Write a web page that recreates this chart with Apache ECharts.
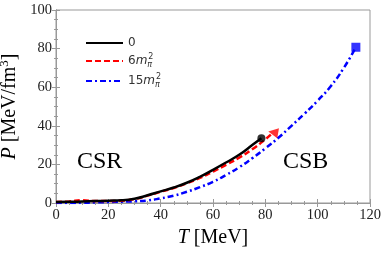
<!DOCTYPE html>
<html><head><meta charset="utf-8">
<script src="https://cdn.jsdelivr.net/npm/echarts@6/dist/echarts.min.js"></script>
<style>html,body{margin:0;padding:0;background:#fff}#c{width:382px;height:253px}</style>
</head><body><div id="c"></div>
<script>
var T0 = [0,5,10,15,20,25,30,35,40,45,50,55,60,65,70,75,78.5];
var P0 = [0.5,0.6,0.8,1.0,1.2,1.4,2.2,4.0,6.0,8.0,10.5,13.6,17.2,21.0,25.0,30.0,33.5];
var T6 = [0,5,10,15,20,25,30,35,40,45,50,55,60,65,70,75,80,83];
var P6 = [0.5,0.8,1.4,1.0,1.0,1.2,2.0,3.8,5.8,7.8,10.2,13.0,16.3,19.8,23.5,27.8,33.0,36.6];
var T15 = [0,5,10,15,20,25,30,35,40,45,50,55,60,65,70,75,80,85,90,95,100,105,110,114.6];
var P15 = [0,0,0.1,0.3,0.5,0.7,0.9,1.3,2.4,3.8,5.8,8.2,11.0,14.5,18.5,23.2,28.3,33.8,40.0,46.3,53.0,60.5,70.0,80.7];
var names = ['0','6m2','15m2'];
var xTicks = [0,20,40,60,80,100,120];
var yTicks = [0,20,40,60,80,100];

function pairs(t,p){return t.map(function(v,i){return [v,p[i]];});}
var serif = 'Liberation Serif';
var chart = echarts.init(document.getElementById('c'));
var axisCommon = {
  axisLine:{show:true,lineStyle:{color:'#999',width:1}},
  axisTick:{show:true,inside:true,length:4,lineStyle:{color:'#999'}},
  minorTick:{show:true,splitNumber:4,length:2,lineStyle:{color:'#999'}},
  splitLine:{show:false}
};
var legendRich = {
  i:{fontStyle:'italic',fontFamily:'DejaVu Sans',fontSize:12,color:'#333'},
  s:{fontFamily:'DejaVu Sans',fontSize:8,fontStyle:'italic',color:'#333',verticalAlign:'bottom',padding:[8,0,0,0],width:1},
  p:{fontFamily:'DejaVu Sans',fontSize:8,color:'#333',verticalAlign:'top',padding:[0,0,8,0]},
  n:{fontFamily:'DejaVu Sans',fontSize:12,color:'#333'}
};
chart.setOption({
  animation:false,
  grid:{left:56,right:12,top:10,bottom:50,show:true,borderColor:'#999',borderWidth:1,containLabel:false,outerBoundsMode:'none'},
  legend:{
    orient:'vertical',left:80,top:32,itemWidth:37,itemHeight:10,itemGap:4,
    itemStyle:{color:'rgba(0,0,0,0)',borderWidth:0,opacity:0},
    data:['0','6m2','15m2'],
    formatter:function(n){
      if(n==='0') return '{n|0}';
      if(n==='6m2') return '{n|6}{i|m}{s|π}{p|2}';
      return '{n|15}{i|m}{s|π}{p|2}';
    },
    textStyle:{rich:legendRich}
  },
  xAxis:[Object.assign({
    type:'value',min:0,max:120,interval:20,
    name:'{i|T} [MeV]',nameLocation:'middle',nameGap:24,
    nameTextStyle:{fontFamily:serif,fontSize:20,color:'#000',rich:{i:{fontFamily:serif,fontStyle:'italic',fontSize:20,color:'#000'}}},
    axisLabel:{fontFamily:serif,fontSize:14.5,color:'#222',margin:5}
  },axisCommon),Object.assign({
    type:'value',min:0,max:120,interval:20,position:'top',axisLabel:{show:false}
  },axisCommon)],
  yAxis:[Object.assign({
    type:'value',min:0,max:100,interval:20,
    name:'{i|P} [MeV/fm{p|3}]',nameLocation:'middle',nameGap:30,nameRotate:90,
    nameTextStyle:{fontFamily:serif,fontSize:20,color:'#000',rich:{
      i:{fontFamily:serif,fontStyle:'italic',fontSize:20,color:'#000'},
      p:{fontFamily:serif,fontSize:13,color:'#000',verticalAlign:'top',padding:[0,0,9,0]}}},
    axisLabel:{fontFamily:serif,fontSize:14.5,color:'#222',margin:4}
  },axisCommon),Object.assign({
    type:'value',min:0,max:100,interval:20,position:'right',axisLabel:{show:false}
  },axisCommon)],
  graphic:[
    {type:'text',left:77,top:150,style:{text:'CSR',font:'24px "Liberation Serif"',fill:'#000'}},
    {type:'text',left:283,top:150,style:{text:'CSB',font:'24px "Liberation Serif"',fill:'#000'}}
  ],
  series:[
    {name:'0',type:'line',data:pairs(T0,P0),smooth:true,symbol:'none',showSymbol:false,z:5,
     lineStyle:{color:'#000',width:2.5},itemStyle:{color:'#000'}},
    {name:'6m2',type:'line',data:pairs(T6,P6),smooth:true,symbol:'none',showSymbol:false,z:4,
     lineStyle:{color:'#ff0000',width:2.5,type:[6,3]},itemStyle:{color:'#ff0000'}},
    {name:'15m2',type:'line',data:pairs(T15,P15),smooth:true,symbol:'none',showSymbol:false,z:3,
     lineStyle:{color:'#0000ff',width:2.5,type:[6,3,2,3]},itemStyle:{color:'#0000ff'}},
    {type:'scatter',data:[[T0[T0.length-1],P0[P0.length-1]]],symbol:'circle',symbolSize:8,itemStyle:{color:'#000'},z:6},
    {type:'scatter',data:[[T6[T6.length-1],P6[P6.length-1]]],symbol:'triangle',symbolSize:10,symbolRotate:80,itemStyle:{color:'#ff0000'},z:6},
    {type:'scatter',data:[[T15[T15.length-1],P15[P15.length-1]]],symbol:'rect',symbolSize:9,itemStyle:{color:'#0000ff'},z:6}
  ]
});
</script></body></html>
